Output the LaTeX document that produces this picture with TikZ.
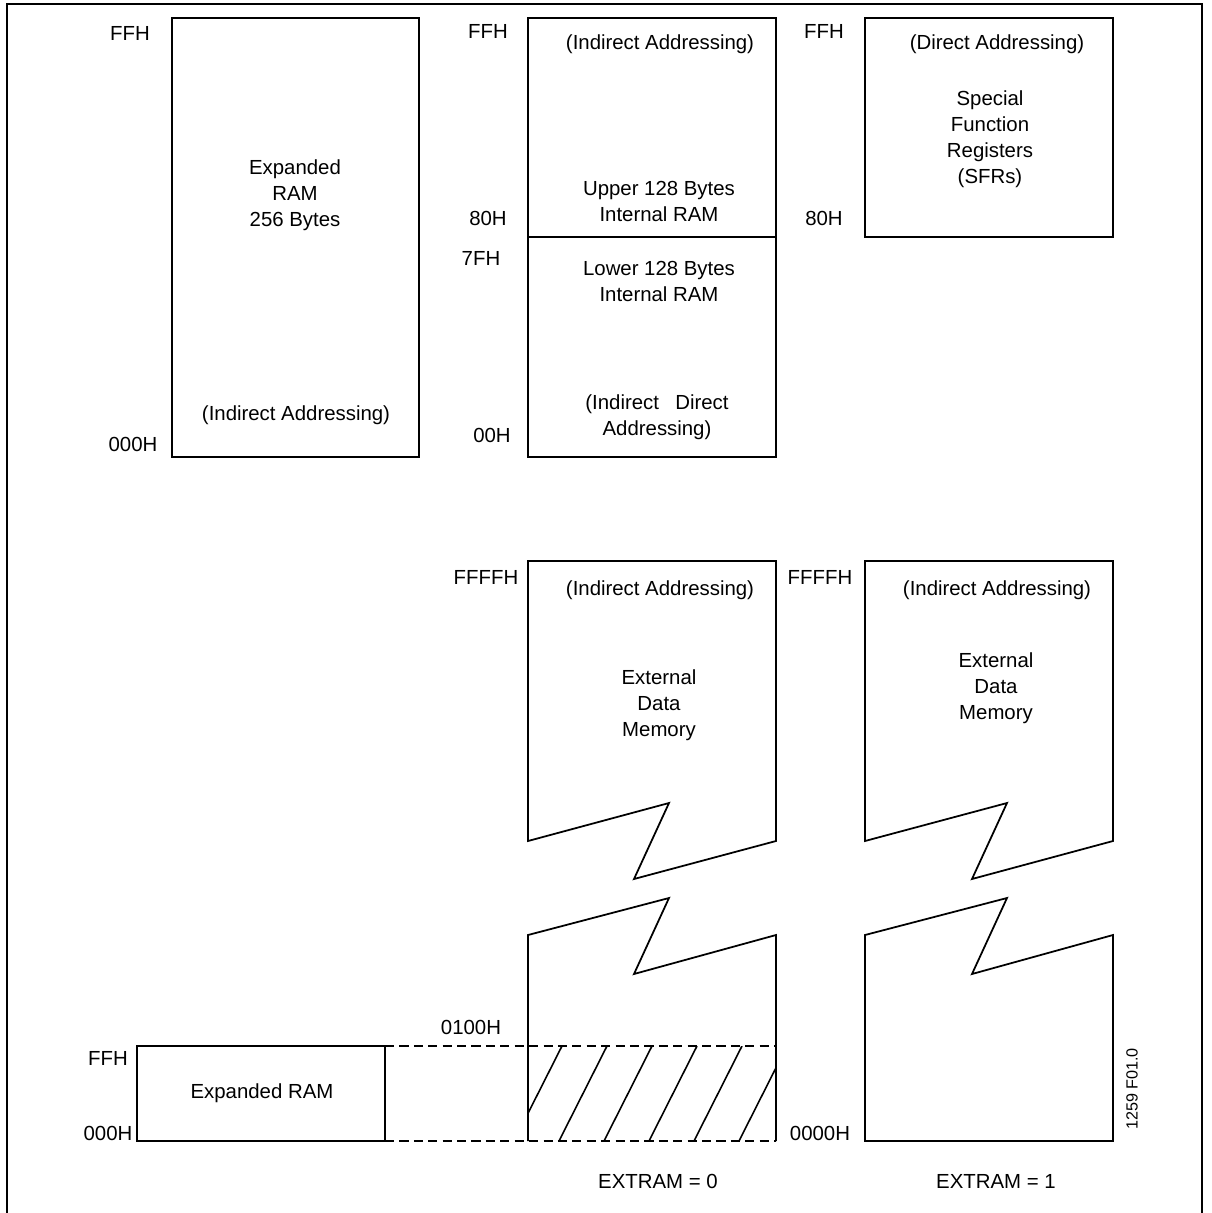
\documentclass[tikz,border=0pt]{standalone}
\usepackage{fontspec}
\setmainfont{Liberation Sans}
\usetikzlibrary{positioning}

\begin{document}
\begin{tikzpicture}[
  x=0.1mm, y=-0.1mm,
  font=\fontsize{5.8}{7.4}\selectfont,
  % memory blocks
  mem/.style={draw=black, line width=0.5pt},
  % dashed extension lines
  ext/.style={draw=black, line width=0.5pt, dash pattern=on 2.6pt off 1.5pt},
  % hatch lines
  hatch/.style={draw=black, line width=0.45pt},
  % texts
  txt/.style={align=center, inner sep=0pt},
  addr/.style={inner sep=0pt},
]
\useasboundingbox (0,0) rectangle (1212,1213);

% ── Column X positions ───────────────────────────────────────────────────
\def\xAl{172}  \def\xAr{419}   % expanded RAM 256
\def\xBl{528}  \def\xBr{776}   % internal RAM / EXTRAM = 0
\def\xCl{865}  \def\xCr{1113}  % SFRs / EXTRAM = 1

% ── Frame ────────────────────────────────────────────────────────────────
\draw[line width=0.7pt] (7,1213) -- (7,4) -- (1202,4) -- (1202,1213);

% ━━━━━━━━━━━━━━━━━━━━━━━━━━━━━━━━━━━━━━━━━━━━━━━━━━━━━━━━━━━━━━━━━━━━━━━
% TOP ROW — internal memory
% ━━━━━━━━━━━━━━━━━━━━━━━━━━━━━━━━━━━━━━━━━━━━━━━━━━━━━━━━━━━━━━━━━━━━━━━
\draw[mem] (\xAl,18) rectangle (\xAr,457);
\node[txt] (xram) at (295,195) {Expanded\\RAM\\256 Bytes};
\node[txt] (xramAd) at (296,415) {(Indirect Addressing)};
\node[addr] (aFF) at (130,33) {FFH};
\node[addr] (a000) at (133,444) {000H};

\draw[mem] (\xBl,18) rectangle (\xBr,457);
\draw[mem] (\xBl,237) -- (\xBr,237);
\node[txt] (upAd) at (660,44) {(Indirect Addressing)};
\node[txt] (upper) at (659,201) {Upper 128 Bytes\\Internal RAM};
\node[txt] (lower) at (659,281) {Lower 128 Bytes\\Internal RAM};
\node[txt] (lowAd) at (657,417) {(Indirect\hspace{0.8em}Direct\\Addressing)};
\node[addr] (bFF) at (488,31) {FFH};
\node[addr] (b80) at (488,218) {80H};
\node[addr] (b7F) at (481,258) {7FH};
\node[addr] (b00) at (492,435) {00H};

\draw[mem] (\xCl,18) rectangle (\xCr,237);
\node[txt] (sfrAd) at (997,44) {(Direct Addressing)};
\node[txt] (sfr) at (990,139) {Special\\Function\\Registers\\(SFRs)};
\node[addr] (cFF) at (824,31) {FFH};
\node[addr] (c80) at (824,218) {80H};

% ━━━━━━━━━━━━━━━━━━━━━━━━━━━━━━━━━━━━━━━━━━━━━━━━━━━━━━━━━━━━━━━━━━━━━━━
% BOTTOM ROW — external data memory
% ━━━━━━━━━━━━━━━━━━━━━━━━━━━━━━━━━━━━━━━━━━━━━━━━━━━━━━━━━━━━━━━━━━━━━━━
% EXTRAM = 0
\draw[mem] (\xBl,841) -- (\xBl,561) -- (\xBr,561) -- (\xBr,841)
  -- (634,879) -- (669,803) -- cycle;
\draw[mem] (\xBl,1141) -- (\xBl,935) -- (669,898) -- (634,974)
  -- (\xBr,935) -- (\xBr,1141);
\node[txt] (e0Ad) at (660,590) {(Indirect Addressing)};
\node[txt] (e0) at (659,705) {External\\Data\\Memory};
\node[addr] (dFFFF) at (486,577) {FFFFH};
\node[addr] (d0100) at (471,1027) {0100H};
\node[addr] (e0lbl) at (658,1181) {EXTRAM = 0};

% expanded RAM mapped into the low page
\draw[mem] (137,1046) rectangle (385,1141);
\node[txt] (xsm) at (262,1093) {Expanded RAM};
\node[addr] (fFF) at (108,1058) {FFH};
\node[addr] (f000) at (108,1133) {000H};
\draw[ext] (385,1046) -- (\xBr,1046);
\draw[ext] (385,1141) -- (\xBr,1141);
\begin{scope}
  \clip (\xBl,1046) rectangle (\xBr,1141);
  \foreach \k in {0,...,5}
    \draw[hatch] (562+45*\k,1046) -- ++(-48,95);
\end{scope}

% EXTRAM = 1
\draw[mem] (\xCl,841) -- (\xCl,561) -- (\xCr,561) -- (\xCr,841)
  -- (972,879) -- (1007,803) -- cycle;
\draw[mem] (\xCl,935) -- (1007,898) -- (972,974) -- (\xCr,935)
  -- (\xCr,1141) -- (\xCl,1141) -- cycle;
\node[txt] (e1Ad) at (997,590) {(Indirect Addressing)};
\node[txt] (e1) at (996,688) {External\\Data\\Memory};
\node[addr] (eFFFF) at (820,577) {FFFFH};
\node[addr] (e0000) at (820,1133) {0000H};
\node[addr] (e1lbl) at (996,1181) {EXTRAM = 1};

% figure tag
\node[addr, rotate=90, font=\fontsize{4.6}{5.5}\selectfont] (tag) at (1132,1089) {1259 F01.0};

\end{tikzpicture}
\end{document}
